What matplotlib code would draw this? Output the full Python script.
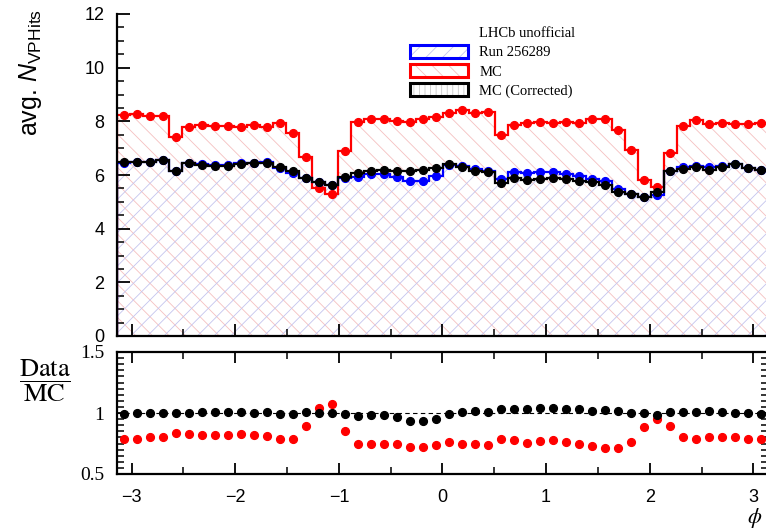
import numpy as np
import matplotlib
matplotlib.use("Agg")
import matplotlib.pyplot as plt
from matplotlib.patches import Patch
from matplotlib.ticker import MultipleLocator

plt.rcParams['hatch.linewidth'] = 0.6
plt.rcParams['mathtext.fontset'] = 'custom'
plt.rcParams['mathtext.rm'] = 'Liberation Sans'
plt.rcParams['mathtext.it'] = 'Liberation Sans:italic'

# 50 bins in phi over [-pi, pi]
edges = np.linspace(-np.pi, np.pi, 51)
centers = 0.5 * (edges[:-1] + edges[1:])

mc = [8.24, 8.27, 8.21, 8.21, 7.43, 7.78, 7.86, 7.83, 7.84, 7.78,
      7.86, 7.80, 7.95, 7.55, 6.66, 5.50, 5.28, 6.91, 7.99, 8.08,
      8.09, 8.03, 7.99, 8.08, 8.17, 8.32, 8.42, 8.30, 8.36, 7.49,
      7.86, 7.95, 7.99, 7.93, 7.97, 7.93, 8.08, 8.08, 7.68, 6.93,
      5.81, 5.57, 6.81, 7.83, 8.05, 7.89, 7.93, 7.89, 7.89, 7.93]

mc_corr = [6.50, 6.50, 6.50, 6.56, 6.16, 6.44, 6.37, 6.34, 6.35, 6.40,
           6.44, 6.46, 6.31, 6.15, 5.88, 5.75, 5.63, 5.94, 6.09, 6.16,
           6.19, 6.15, 6.15, 6.19, 6.27, 6.41, 6.31, 6.15, 6.12, 5.69,
           5.88, 5.81, 5.85, 5.88, 5.85, 5.78, 5.73, 5.63, 5.38, 5.28,
           5.19, 5.38, 6.16, 6.22, 6.31, 6.19, 6.31, 6.41, 6.25, 6.19]

data = [6.44, 6.49, 6.50, 6.56, 6.16, 6.44, 6.42, 6.38, 6.39, 6.46,
        6.46, 6.48, 6.26, 6.06, 5.90, 5.75, 5.63, 5.90, 5.92, 6.04,
        6.05, 5.94, 5.77, 5.78, 5.96, 6.36, 6.32, 6.23, 6.15, 5.86,
        6.10, 6.06, 6.13, 6.12, 6.05, 5.98, 5.85, 5.79, 5.49, 5.30,
        5.19, 5.27, 6.15, 6.30, 6.34, 6.30, 6.34, 6.42, 6.25, 6.19]

ratio_mc = [0.787, 0.787, 0.80, 0.80, 0.833, 0.825, 0.82, 0.82, 0.82, 0.83,
            0.82, 0.815, 0.785, 0.79, 0.89, 1.04, 1.07, 0.855, 0.743, 0.75,
            0.746, 0.743, 0.725, 0.72, 0.735, 0.765, 0.75, 0.75, 0.738, 0.784,
            0.78, 0.757, 0.77, 0.78, 0.76, 0.75, 0.73, 0.716, 0.71, 0.765,
            0.883, 0.95, 0.893, 0.80, 0.79, 0.806, 0.806, 0.806, 0.79, 0.784]

ratio_corr = [0.99, 1.00, 1.00, 1.00, 1.00, 1.00, 1.01, 1.005, 1.005, 1.01,
              1.00, 1.005, 0.99, 0.99, 1.005, 1.00, 1.00, 0.99, 0.975, 0.98,
              0.98, 0.965, 0.935, 0.935, 0.95, 0.99, 1.005, 1.015, 1.005, 1.03,
              1.033, 1.033, 1.044, 1.038, 1.03, 1.03, 1.02, 1.025, 1.016, 1.0,
              1.0, 0.984, 1.005, 1.01, 1.005, 1.016, 1.005, 1.0, 1.0, 0.99]

RED = '#ff0000'
BLUE = '#0000ff'
PINK = '#f5c0c0'
LAV = '#c4c4ee'
GREY = '#c8c8c8'

W, H = 766, 530
fig = plt.figure(figsize=(W / 100, H / 100), dpi=100)
ax1 = fig.add_axes([117 / W, 1 - 336 / H, (768 - 117) / W, (336 - 14) / H])
ax2 = fig.add_axes([117 / W, 1 - 474 / H, (768 - 117) / W, (474 - 352) / H])

# --- top panel
def hist(ax, vals, col, hatch=None, hcol=None, z=2):
    if hatch:
        ax.stairs(vals, edges, fill=True, facecolor='none', edgecolor=hcol,
                  hatch=hatch, linewidth=0, zorder=1)
    ax.stairs(vals, edges, color=col, linewidth=1.6, baseline=0, zorder=z)
    ax.plot(centers, vals, 'o', color=col, ms=5.6, zorder=z + 0.1)

hist(ax1, mc, RED, '\\\\', PINK, z=2)
hist(ax1, data, BLUE, '//', LAV, z=3)
hist(ax1, mc_corr, 'black', z=4)

ax1.set_xlim(-np.pi, np.pi)
ax1.set_ylim(0, 12)
ax1.yaxis.set_major_locator(MultipleLocator(2))
ax1.yaxis.set_minor_locator(MultipleLocator(0.5))
ax1.xaxis.set_major_locator(MultipleLocator(1))
ax1.xaxis.set_minor_locator(MultipleLocator(0.5))
ax1.tick_params(which='both', direction='in', labelbottom=False,
                labelsize=13, pad=9)
ax1.tick_params(which='major', length=9, width=1.3)
ax1.tick_params(which='minor', length=5, width=1.1)
for t in ax1.get_yticklabels():
    t.set_family('Liberation Sans')
for s in ['top', 'right']:
    ax1.spines[s].set_visible(False)
for s in ['left', 'bottom']:
    ax1.spines[s].set_linewidth(1.6)

# legend boxes: light hatch underneath, coloured outline on top
def box(col, hcol, hatch):
    return (Patch(facecolor='white', edgecolor=hcol, hatch=hatch, linewidth=0),
            Patch(facecolor='none', edgecolor=col, linewidth=2.2))

handles = [Patch(visible=False), box(BLUE, LAV, '//'),
           box(RED, PINK, '\\\\'), box('black', GREY, '|||')]
labels = ['LHCb unofficial', 'Run 256289', 'MC', 'MC (Corrected)']
leg = ax1.legend(handles, labels, loc='upper left',
                 bbox_to_anchor=((410 - 117) / 651, (336 - 26) / 322),
                 frameon=False, prop={'family': 'Liberation Serif', 'size': 10.5},
                 handlelength=4.0, handleheight=0.95, handletextpad=0.75,
                 labelspacing=0.33, borderpad=0, borderaxespad=0)

fig.text(30 / W, 1 - 9 / H, r'avg. $N_{\mathrm{VPHits}}$', rotation=90,
         ha='center', va='top', fontsize=18, family='Liberation Sans')

# --- ratio panel
ax2.axhline(1.0, color='black', lw=0.8, ls=(0, (4, 3)), zorder=1)
ax2.plot(centers, ratio_mc, 'o', color=RED, ms=5.6, zorder=3)
ax2.plot(centers, ratio_corr, 'o', color='black', ms=5.6, zorder=4)
ax2.set_xlim(-np.pi, np.pi)
ax2.set_ylim(0.5, 1.5)
ax2.xaxis.set_major_locator(MultipleLocator(1))
ax2.xaxis.set_minor_locator(MultipleLocator(0.5))
ax2.yaxis.set_major_locator(MultipleLocator(0.5))
ax2.yaxis.set_minor_locator(MultipleLocator(0.05))
ax2.tick_params(which='both', direction='in', top=True, right=True)
ax2.tick_params(which='major', length=8, width=1.3)
ax2.tick_params(which='minor', length=5, width=1.1)
ax2.tick_params(axis='x', labelsize=13, pad=11)
ax2.tick_params(axis='y', labelsize=14, pad=9)
ax2.set_yticks([0.5, 1, 1.5], ['0.5', '1', '1.5'])
for t in ax2.get_xticklabels():
    t.set_family('Liberation Sans')
for t in ax2.get_yticklabels():
    t.set_family('Liberation Serif')
for s in ax2.spines.values():
    s.set_linewidth(1.6)

fig.text(45 / W, 1 - 381 / H, r'$\dfrac{\mathrm{Data}}{\mathrm{MC}}$',
         ha='center', va='center', fontsize=19, math_fontfamily='stix')
fig.text(755 / W, 1 - 518 / H, r'$\phi$', ha='center', va='center',
         fontsize=16, math_fontfamily='stix')

fig.savefig('out.png', dpi=100)
